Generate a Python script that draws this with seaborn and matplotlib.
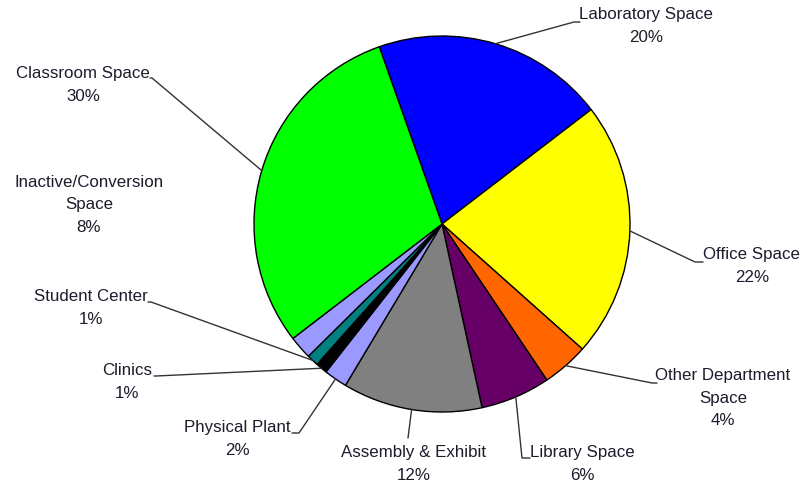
import matplotlib
matplotlib.use("Agg")
import matplotlib.pyplot as plt
from matplotlib.lines import Line2D
import numpy as np
import seaborn as sns

# Space usage by category (share of total, %), clockwise from the top
categories = [
    "Laboratory Space",
    "Office Space",
    "Other Department\nSpace",
    "Library Space",
    "Assembly & Exhibit",
    "Physical Plant",
    "Clinics",
    "Student Center",
    "Inactive/Conversion\nSpace",
    "Classroom Space",
]
shares = [20, 22, 4, 6, 12, 2, 1, 1, 2, 30]
pct_labels = ["20%", "22%", "4%", "6%", "12%", "2%", "1%", "1%", "8%", "30%"]
slice_colors = [
    "#0000FF", "#FFFF00", "#FF6600", "#660066", "#808080",
    "#9999FF", "#000000", "#008080", "#9999FF", "#00FF00",
]

sns.set_theme(style="white")
plt.rcParams["font.family"] = ["Liberation Sans", "DejaVu Sans"]

W, H = 803, 488
fig = plt.figure(figsize=(W / 100, H / 100), dpi=100)
fig.patch.set_facecolor("white")

# pie area in pixels (centre and radius)
cx, cy, r = 442, 224, 188
ax = fig.add_axes([(cx - r) / W, 1 - (cy + r) / H, 2 * r / W, 2 * r / H])
wedges, _ = ax.pie(
    shares,
    colors=slice_colors,
    startangle=109.5,
    counterclock=False,
    radius=1.0,
    wedgeprops=dict(edgecolor="black", linewidth=1.0),
)
ax.set_xlim(-1, 1)
ax.set_ylim(-1, 1)
ax.set_aspect("equal")
ax.axis("off")


def px(x, y):
    """pixel position (origin top-left) -> figure fraction"""
    return x / W, 1 - y / H


# label block centre and leader elbow / end, in pixels
layout = {
    "Laboratory Space": dict(text=(646, 26), elbow=(574, 22), end=(580, 22)),
    "Office Space": dict(text=(752, 266), elbow=(695, 262), end=(703, 262)),
    "Other Department\nSpace": dict(text=(723, 398), elbow=(652, 383), end=(657, 383)),
    "Library Space": dict(text=(582, 464), elbow=(522, 458), end=(530, 458)),
    "Assembly & Exhibit": dict(text=(414, 464), elbow=(408, 438), end=None),
    "Physical Plant": dict(text=(237, 439), elbow=(299, 433), end=(292, 433)),
    "Clinics": dict(text=(127, 382), elbow=(156, 376), end=(154, 376)),
    "Student Center": dict(text=(91, 308), elbow=(151, 302), end=(148, 302)),
    "Inactive/Conversion\nSpace": dict(text=(89, 205), elbow=None, end=None),
    "Classroom Space": dict(text=(83, 85), elbow=(152, 78), end=(150, 78)),
}

inv_fig = fig.transFigure.inverted()
for w, name, pct in zip(wedges, categories, pct_labels):
    lay = layout[name]
    tx, ty = px(*lay["text"])
    fig.text(tx, ty, f"{name}\n{pct}", ha="center", va="center",
             multialignment="center", fontsize=12.2, linespacing=1.64,
             color="#1c1c2c")
    if lay["elbow"] is None:
        continue
    mid = np.deg2rad((w.theta1 + w.theta2) / 2)
    edge = inv_fig.transform(ax.transData.transform((np.cos(mid), np.sin(mid))))
    pts = [tuple(edge), px(*lay["elbow"])]
    if lay["end"] is not None:
        pts.append(px(*lay["end"]))
    xs, ys = zip(*pts)
    fig.add_artist(Line2D(xs, ys, transform=fig.transFigure,
                          color="#333333", linewidth=1.0))

fig.savefig("out.png", dpi=100, facecolor="white")
